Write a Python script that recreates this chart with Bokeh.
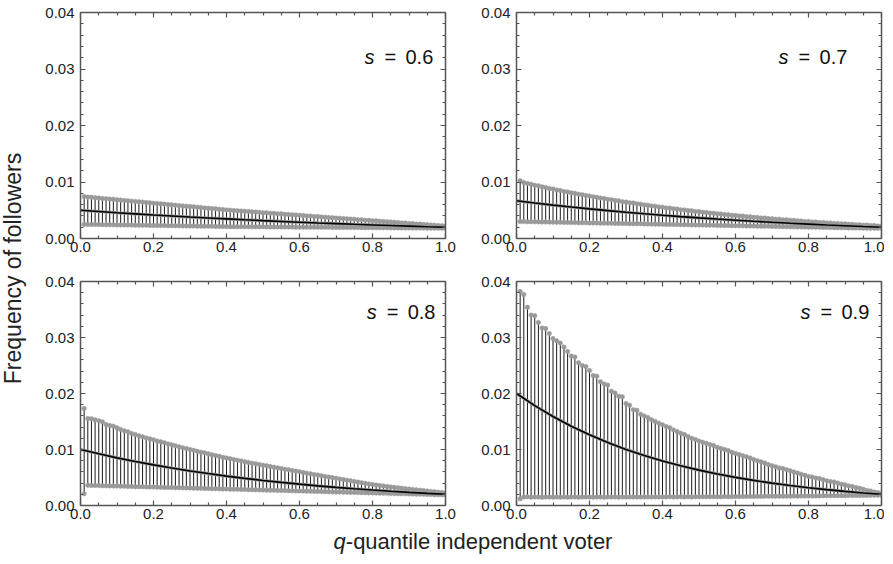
from bokeh.plotting import figure
from bokeh.layouts import row, column
from bokeh.models import Range1d, FixedTicker, LinearAxis, Label, NumeralTickFormatter, ColumnDataSource
from bokeh.embed import file_html
from bokeh.resources import INLINE

# ---------------- data ----------------
q = [0.01, 0.02, 0.03, 0.04, 0.05, 0.06, 0.07, 0.08, 0.09, 0.10,
     0.11, 0.12, 0.13, 0.14, 0.15, 0.16, 0.17, 0.18, 0.19, 0.20,
     0.21, 0.22, 0.23, 0.24, 0.25, 0.26, 0.27, 0.28, 0.29, 0.30,
     0.31, 0.32, 0.33, 0.34, 0.35, 0.36, 0.37, 0.38, 0.39, 0.40,
     0.41, 0.42, 0.43, 0.44, 0.45, 0.46, 0.47, 0.48, 0.49, 0.50,
     0.51, 0.52, 0.53, 0.54, 0.55, 0.56, 0.57, 0.58, 0.59, 0.60,
     0.61, 0.62, 0.63, 0.64, 0.65, 0.66, 0.67, 0.68, 0.69, 0.70,
     0.71, 0.72, 0.73, 0.74, 0.75, 0.76, 0.77, 0.78, 0.79, 0.80,
     0.81, 0.82, 0.83, 0.84, 0.85, 0.86, 0.87, 0.88, 0.89, 0.90,
     0.91, 0.92, 0.93, 0.94, 0.95, 0.96, 0.97, 0.98, 0.99, 1.00]

q_mean = [0.0, 0.05, 0.1, 0.15, 0.2, 0.25, 0.3, 0.35, 0.4, 0.45, 0.5,
          0.55, 0.6, 0.65, 0.7, 0.75, 0.8, 0.85, 0.9, 0.95, 1.0]

s_labels = ["0.6", "0.7", "0.8", "0.9"]

mean_06 = [0.00500, 0.00478, 0.00456, 0.00436, 0.00416, 0.00398, 0.00380, 0.00363, 0.00347, 0.00331, 0.00316,
           0.00302, 0.00288, 0.00275, 0.00263, 0.00251, 0.00240, 0.00229, 0.00219, 0.00209, 0.00200]
mean_07 = [0.00667, 0.00628, 0.00591, 0.00557, 0.00524, 0.00494, 0.00465, 0.00438, 0.00412, 0.00388, 0.00365,
           0.00344, 0.00324, 0.00305, 0.00287, 0.00270, 0.00255, 0.00240, 0.00226, 0.00212, 0.00200]
mean_08 = [0.01000, 0.00923, 0.00851, 0.00786, 0.00725, 0.00669, 0.00617, 0.00570, 0.00525, 0.00485, 0.00447,
           0.00413, 0.00381, 0.00351, 0.00324, 0.00299, 0.00276, 0.00255, 0.00235, 0.00217, 0.00200]
mean_09 = [0.02000, 0.01783, 0.01589, 0.01416, 0.01262, 0.01125, 0.01002, 0.00893, 0.00796, 0.00710, 0.00632,
           0.00564, 0.00502, 0.00448, 0.00399, 0.00356, 0.00317, 0.00283, 0.00252, 0.00224, 0.00200]

upper_06 = [0.00742, 0.00733, 0.00729, 0.00721, 0.00717, 0.00709, 0.00705, 0.00697, 0.00693, 0.00685,
            0.00681, 0.00673, 0.00669, 0.00661, 0.00657, 0.00649, 0.00645, 0.00637, 0.00633, 0.00625,
            0.00621, 0.00613, 0.00609, 0.00601, 0.00597, 0.00589, 0.00585, 0.00577, 0.00573, 0.00565,
            0.00561, 0.00553, 0.00549, 0.00541, 0.00537, 0.00529, 0.00525, 0.00517, 0.00513, 0.00505,
            0.00502, 0.00496, 0.00493, 0.00486, 0.00483, 0.00477, 0.00474, 0.00467, 0.00464, 0.00457,
            0.00455, 0.00448, 0.00445, 0.00438, 0.00436, 0.00429, 0.00426, 0.00419, 0.00417, 0.00410,
            0.00407, 0.00400, 0.00398, 0.00391, 0.00388, 0.00381, 0.00378, 0.00372, 0.00369, 0.00362,
            0.00359, 0.00353, 0.00350, 0.00343, 0.00340, 0.00334, 0.00331, 0.00324, 0.00321, 0.00314,
            0.00312, 0.00305, 0.00302, 0.00295, 0.00293, 0.00286, 0.00283, 0.00276, 0.00274, 0.00267,
            0.00264, 0.00257, 0.00255, 0.00248, 0.00245, 0.00238, 0.00235, 0.00229, 0.00226, 0.00220]
lower_06 = [0.00250, 0.00249, 0.00248, 0.00247, 0.00246, 0.00245, 0.00244, 0.00243, 0.00242, 0.00241,
            0.00240, 0.00239, 0.00238, 0.00237, 0.00236, 0.00235, 0.00234, 0.00233, 0.00232, 0.00231,
            0.00230, 0.00229, 0.00228, 0.00227, 0.00226, 0.00225, 0.00224, 0.00223, 0.00222, 0.00221,
            0.00220, 0.00219, 0.00218, 0.00217, 0.00216, 0.00215, 0.00214, 0.00213, 0.00212, 0.00211,
            0.00210, 0.00210, 0.00209, 0.00209, 0.00208, 0.00208, 0.00207, 0.00207, 0.00206, 0.00206,
            0.00205, 0.00205, 0.00204, 0.00204, 0.00203, 0.00203, 0.00202, 0.00202, 0.00201, 0.00201,
            0.00200, 0.00200, 0.00199, 0.00199, 0.00198, 0.00198, 0.00197, 0.00197, 0.00196, 0.00196,
            0.00195, 0.00195, 0.00194, 0.00194, 0.00193, 0.00193, 0.00192, 0.00192, 0.00191, 0.00191,
            0.00190, 0.00190, 0.00189, 0.00189, 0.00188, 0.00188, 0.00187, 0.00187, 0.00186, 0.00186,
            0.00185, 0.00185, 0.00184, 0.00184, 0.00183, 0.00183, 0.00182, 0.00182, 0.00181, 0.00181]

upper_07 = [0.01020, 0.00991, 0.00972, 0.00961, 0.00942, 0.00932, 0.00914, 0.00904, 0.00886, 0.00877,
            0.00859, 0.00850, 0.00833, 0.00825, 0.00808, 0.00800, 0.00784, 0.00776, 0.00760, 0.00753,
            0.00737, 0.00730, 0.00715, 0.00708, 0.00693, 0.00687, 0.00672, 0.00666, 0.00652, 0.00646,
            0.00632, 0.00627, 0.00613, 0.00608, 0.00595, 0.00590, 0.00577, 0.00572, 0.00559, 0.00555,
            0.00542, 0.00538, 0.00526, 0.00522, 0.00510, 0.00506, 0.00495, 0.00491, 0.00480, 0.00476,
            0.00465, 0.00462, 0.00451, 0.00448, 0.00437, 0.00435, 0.00424, 0.00422, 0.00411, 0.00409,
            0.00399, 0.00397, 0.00387, 0.00385, 0.00375, 0.00373, 0.00364, 0.00362, 0.00353, 0.00351,
            0.00342, 0.00341, 0.00332, 0.00331, 0.00322, 0.00321, 0.00312, 0.00311, 0.00302, 0.00302,
            0.00293, 0.00293, 0.00284, 0.00284, 0.00276, 0.00275, 0.00267, 0.00267, 0.00259, 0.00259,
            0.00251, 0.00251, 0.00244, 0.00244, 0.00236, 0.00237, 0.00229, 0.00230, 0.00222, 0.00221]
lower_07 = [0.00300, 0.00299, 0.00297, 0.00296, 0.00295, 0.00294, 0.00292, 0.00291, 0.00290, 0.00289,
            0.00287, 0.00286, 0.00285, 0.00284, 0.00282, 0.00281, 0.00280, 0.00279, 0.00277, 0.00276,
            0.00275, 0.00274, 0.00272, 0.00271, 0.00270, 0.00269, 0.00267, 0.00266, 0.00265, 0.00264,
            0.00262, 0.00261, 0.00260, 0.00259, 0.00257, 0.00256, 0.00255, 0.00254, 0.00252, 0.00251,
            0.00250, 0.00249, 0.00247, 0.00246, 0.00245, 0.00244, 0.00242, 0.00241, 0.00240, 0.00239,
            0.00237, 0.00236, 0.00235, 0.00234, 0.00232, 0.00231, 0.00230, 0.00229, 0.00227, 0.00226,
            0.00225, 0.00224, 0.00222, 0.00221, 0.00220, 0.00219, 0.00217, 0.00216, 0.00215, 0.00214,
            0.00212, 0.00211, 0.00210, 0.00209, 0.00207, 0.00206, 0.00205, 0.00204, 0.00202, 0.00201,
            0.00200, 0.00199, 0.00197, 0.00196, 0.00195, 0.00194, 0.00192, 0.00191, 0.00190, 0.00189,
            0.00187, 0.00186, 0.00185, 0.00184, 0.00183, 0.00182, 0.00181, 0.00180, 0.00180, 0.00180]

upper_08 = [0.01732, 0.01554, 0.01548, 0.01530, 0.01512, 0.01494, 0.01447, 0.01429, 0.01417, 0.01387,
            0.01357, 0.01333, 0.01316, 0.01286, 0.01268, 0.01244, 0.01226, 0.01205, 0.01190, 0.01172,
            0.01150, 0.01138, 0.01120, 0.01100, 0.01085, 0.01066, 0.01050, 0.01032, 0.01018, 0.01000,
            0.00985, 0.00968, 0.00952, 0.00940, 0.00922, 0.00908, 0.00892, 0.00878, 0.00862, 0.00850,
            0.00836, 0.00820, 0.00808, 0.00795, 0.00782, 0.00770, 0.00756, 0.00745, 0.00732, 0.00720,
            0.00708, 0.00696, 0.00684, 0.00672, 0.00660, 0.00648, 0.00637, 0.00625, 0.00614, 0.00602,
            0.00590, 0.00578, 0.00566, 0.00555, 0.00544, 0.00532, 0.00520, 0.00508, 0.00498, 0.00486,
            0.00474, 0.00463, 0.00452, 0.00440, 0.00430, 0.00418, 0.00407, 0.00396, 0.00385, 0.00375,
            0.00366, 0.00357, 0.00348, 0.00340, 0.00332, 0.00324, 0.00316, 0.00308, 0.00301, 0.00294,
            0.00287, 0.00280, 0.00273, 0.00266, 0.00259, 0.00252, 0.00245, 0.00238, 0.00231, 0.00224]
lower_08 = [0.00210, 0.00360, 0.00358, 0.00357, 0.00355, 0.00353, 0.00351, 0.00350, 0.00348, 0.00346,
            0.00344, 0.00343, 0.00341, 0.00339, 0.00337, 0.00336, 0.00334, 0.00332, 0.00330, 0.00329,
            0.00327, 0.00325, 0.00323, 0.00322, 0.00320, 0.00318, 0.00316, 0.00315, 0.00313, 0.00311,
            0.00309, 0.00308, 0.00306, 0.00304, 0.00302, 0.00301, 0.00299, 0.00297, 0.00295, 0.00294,
            0.00292, 0.00290, 0.00288, 0.00287, 0.00285, 0.00283, 0.00281, 0.00280, 0.00278, 0.00276,
            0.00274, 0.00273, 0.00271, 0.00269, 0.00267, 0.00266, 0.00264, 0.00262, 0.00260, 0.00259,
            0.00257, 0.00255, 0.00253, 0.00252, 0.00250, 0.00248, 0.00246, 0.00245, 0.00243, 0.00241,
            0.00239, 0.00238, 0.00236, 0.00234, 0.00232, 0.00231, 0.00229, 0.00227, 0.00225, 0.00224,
            0.00222, 0.00220, 0.00218, 0.00217, 0.00215, 0.00213, 0.00211, 0.00210, 0.00208, 0.00206,
            0.00204, 0.00203, 0.00201, 0.00199, 0.00197, 0.00196, 0.00194, 0.00192, 0.00190, 0.00189]

upper_09 = [0.0382, 0.0377, 0.0354, 0.0340, 0.0339, 0.0327, 0.0317, 0.0316, 0.0307, 0.0298,
            0.0294, 0.0290, 0.0283, 0.0275, 0.0267, 0.0265, 0.0255, 0.0250, 0.0248, 0.0241,
            0.0232, 0.0231, 0.0221, 0.0217, 0.0215, 0.0204, 0.0201, 0.0195, 0.0194, 0.0182,
            0.0179, 0.0171, 0.0170, 0.0163, 0.0160, 0.0157, 0.0153, 0.0150, 0.0147, 0.0144,
            0.0141, 0.0139, 0.0135, 0.0132, 0.0129, 0.0127, 0.0123, 0.0120, 0.0118, 0.0115,
            0.0113, 0.0111, 0.0109, 0.0107, 0.0104, 0.0102, 0.0100, 0.0098, 0.0095, 0.0093,
            0.0091, 0.0089, 0.0087, 0.0085, 0.0082, 0.0080, 0.0078, 0.0076, 0.0073, 0.0071,
            0.0069, 0.0067, 0.0066, 0.0064, 0.0062, 0.0060, 0.0058, 0.0056, 0.0054, 0.0052,
            0.0051, 0.0049, 0.0048, 0.0046, 0.0044, 0.0043, 0.0042, 0.0040, 0.0038, 0.0037,
            0.0035, 0.0034, 0.0032, 0.0031, 0.0029, 0.0027, 0.0026, 0.0024, 0.0023, 0.0021]
lower_09 = [0.00120, 0.00150, 0.00155, 0.00148, 0.00152, 0.00150, 0.00146, 0.00153, 0.00150, 0.00148,
            0.00152, 0.00149, 0.00151, 0.00147, 0.00153, 0.00150, 0.00148, 0.00152, 0.00150, 0.00151,
            0.00149, 0.00152, 0.00150, 0.00148, 0.00153, 0.00151, 0.00150, 0.00149, 0.00152, 0.00150,
            0.00151, 0.00153, 0.00150, 0.00152, 0.00151, 0.00154, 0.00152, 0.00153, 0.00151, 0.00154,
            0.00153, 0.00155, 0.00152, 0.00154, 0.00156, 0.00153, 0.00155, 0.00154, 0.00156, 0.00155,
            0.00157, 0.00155, 0.00156, 0.00158, 0.00156, 0.00157, 0.00159, 0.00158, 0.00157, 0.00160,
            0.00159, 0.00161, 0.00160, 0.00162, 0.00161, 0.00163, 0.00162, 0.00164, 0.00163, 0.00165,
            0.00164, 0.00166, 0.00165, 0.00167, 0.00166, 0.00168, 0.00167, 0.00169, 0.00168, 0.00170,
            0.00170, 0.00171, 0.00171, 0.00172, 0.00173, 0.00173, 0.00174, 0.00175, 0.00175, 0.00176,
            0.00177, 0.00177, 0.00178, 0.00179, 0.00179, 0.00180, 0.00181, 0.00181, 0.00182, 0.00183]

x_major = [0.0, 0.2, 0.4, 0.6, 0.8, 1.0]
x_minor = [0.05, 0.1, 0.15, 0.25, 0.3, 0.35, 0.45, 0.5, 0.55, 0.65, 0.7, 0.75, 0.85, 0.9, 0.95]
y_major = [0.0, 0.01, 0.02, 0.03, 0.04]
y_minor = [0.002, 0.004, 0.006, 0.008, 0.012, 0.014, 0.016, 0.018, 0.022, 0.024, 0.026, 0.028,
           0.032, 0.034, 0.036, 0.038]

FONT = "Liberation Sans"
AX_COL = "#555555"


def style_axis(ax, ticker, fmt, show_labels, standoff):
    ax.ticker = ticker
    ax.axis_line_color = AX_COL
    ax.axis_line_width = 1.5
    ax.major_tick_line_color = AX_COL
    ax.minor_tick_line_color = AX_COL
    ax.major_tick_in = 5
    ax.major_tick_out = 0
    ax.minor_tick_in = 3
    ax.minor_tick_out = 0
    ax.major_tick_line_width = 1.2
    ax.minor_tick_line_width = 1.2
    if show_labels:
        ax.formatter = NumeralTickFormatter(format=fmt)
        ax.major_label_text_font = FONT
        ax.major_label_text_font_size = "15px"
        ax.major_label_text_color = "#222222"
        ax.major_label_standoff = standoff
    else:
        ax.major_label_overrides = {t: "" for t in ticker.ticks}
        ax.major_label_text_font_size = "6px"
        ax.major_label_standoff = 0


def make_panel(mean, upper, lower, s_text, fh, bl, br, bt, bb, sx, sy):
    p = figure(frame_width=365, frame_height=fh,
               x_range=Range1d(0, 1), y_range=Range1d(0, 0.04),
               output_backend="svg", toolbar_location=None,
               min_border_left=bl, min_border_right=br,
               min_border_top=bt, min_border_bottom=bb)
    p.grid.visible = False
    p.outline_line_color = None
    p.background_fill_color = "white"
    p.border_fill_color = "white"
    p.add_layout(LinearAxis(), "above")
    p.add_layout(LinearAxis(), "right")
    xt = FixedTicker(ticks=x_major, minor_ticks=x_minor)
    yt = FixedTicker(ticks=y_major, minor_ticks=y_minor)
    style_axis(p.below[0], xt, "0.0", True, 3)
    style_axis(p.above[0], FixedTicker(ticks=x_major, minor_ticks=x_minor), "0.0", False, 0)
    style_axis(p.left[0], yt, "0.00", True, 6)
    style_axis(p.right[0], FixedTicker(ticks=y_major, minor_ticks=y_minor), "0.00", False, 0)

    src = ColumnDataSource(dict(q=q, upper=upper, lower=lower))
    p.segment(x0="q", y0="lower", x1="q", y1="upper", source=src,
              line_color="#1a1a1a", line_width=1)
    p.scatter("q", "upper", source=src, size=4.5, fill_color="#9a9a9a",
              line_color="#9a9a9a", line_width=0.5)
    p.scatter("q", "lower", source=src, size=4.5, fill_color="#9a9a9a",
              line_color="#9a9a9a", line_width=0.5)
    p.line(q_mean, mean, line_color="#9a9a9a", line_width=3.2)
    p.line(q_mean, mean, line_color="black", line_width=1.6)

    # annotation "s = 0.x"
    px = 1.0 / 365.0
    p.add_layout(Label(x=sx, y=sy, text="s", text_font=FONT, text_font_style="italic",
                       text_font_size="20px", text_color="#111111", text_baseline="alphabetic"))
    p.add_layout(Label(x=sx + 20 * px, y=sy, text="=", text_font=FONT,
                       text_font_size="20px", text_color="#111111", text_baseline="alphabetic"))
    p.add_layout(Label(x=sx + 41 * px, y=sy, text=s_text, text_font=FONT,
                       text_font_size="20px", text_color="#111111", text_baseline="alphabetic"))
    return p


p06 = make_panel(mean_06, upper_06, lower_06, s_labels[0], 226, 42, 15, 12, 21, 0.778, 0.0322)
p07 = make_panel(mean_07, upper_07, lower_07, s_labels[1], 226, 56, 3, 12, 21, 0.718, 0.0322)
p08 = make_panel(mean_08, upper_08, lower_08, s_labels[2], 224, 42, 15, 22, 21, 0.784, 0.0345)
p09 = make_panel(mean_09, upper_09, lower_09, s_labels[3], 224, 56, 3, 22, 21, 0.778, 0.0345)


def blank_fig(w, h):
    f = figure(width=w, height=h, x_range=Range1d(0, w), y_range=Range1d(0, h),
               output_backend="svg", toolbar_location=None,
               min_border=0, min_border_left=0, min_border_right=0,
               min_border_top=0, min_border_bottom=0)
    f.axis.visible = False
    f.grid.visible = False
    f.outline_line_color = None
    return f


# y label strip (left)
ylab = blank_fig(38, 526)
ylab.add_layout(Label(x=12, y=258, text="Frequency of followers", angle=90, angle_units="deg",
                      text_font=FONT, text_font_size="23px", text_color="#222222",
                      text_align="center", text_baseline="middle"))

# x label strip (bottom)
xlab = blank_fig(884, 30)
xlab.add_layout(Label(x=333, y=15, text="q", text_font=FONT, text_font_style="italic",
                      text_font_size="22px", text_color="#222222", text_baseline="middle"))
xlab.add_layout(Label(x=333 + 12.3, y=15, text="-quantile independent voter", text_font=FONT,
                      text_font_size="22px", text_color="#222222", text_baseline="middle"))

grid = column(row(p06, p07), row(p08, p09))
layout = column(row(ylab, grid), xlab)

open("out.html", "w").write(file_html(layout, INLINE))
